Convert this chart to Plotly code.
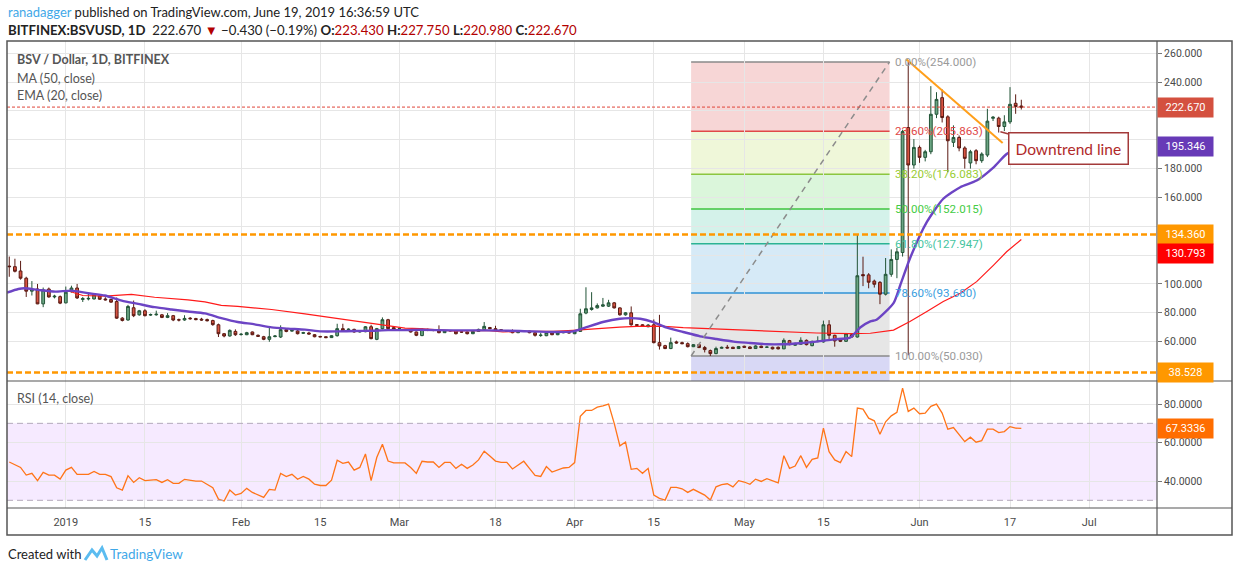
import pandas as pd
import plotly.graph_objects as go
from plotly.subplots import make_subplots

# pixel frame of the plotting area (inside the 1234x572 page)
W, H = 1234, 572
PL, PR, PT, PB = 7, 1157, 41, 508


def px(x):
    return (x - PL) / (PR - PL)


def py(y):
    return (PB - y) / (PB - PT)


# ---- daily candles, BITFINEX:BSVUSD, 2018-12-22 .. 2019-06-19 ----
first_day = "2018-12-22"
opens = [
    112.4, 112.0, 109.0, 104.0, 95.0, 96.5, 86.2, 96.5, 91.0, 91.2,
    86.9, 94.7, 97.2, 89.3, 89.6, 89.6, 91.7, 89.6, 89.2, 87.8,
    76.3, 75.0, 83.5, 78.6, 81.4, 78.4, 78.6, 78.6, 76.8, 78.0,
    75.2, 75.0, 76.3, 76.0, 75.6, 75.3, 74.6, 71.7, 65.5, 63.9,
    67.1, 64.9, 64.8, 66.7, 64.4, 63.4, 61.6, 63.5, 63.2, 68.3,
    67.3, 67.4, 65.8, 66.0, 64.8, 63.6, 63.4, 62.8, 64.1, 69.0,
    68.3, 68.5, 66.7, 66.9, 70.3, 61.6, 69.0, 75.2, 69.7, 69.0,
    68.4, 68.3, 66.7, 64.2, 68.5, 67.9, 67.6, 66.2, 67.7, 67.6,
    66.8, 66.7, 65.5, 67.1, 68.3, 69.8, 69.0, 68.3, 67.4, 67.6,
    66.2, 67.2, 67.3, 66.2, 64.3, 64.1, 66.2, 64.8, 66.2, 66.2,
    65.5, 67.1, 79.8, 82.3, 83.4, 84.6, 84.6, 86.9, 83.4, 78.6,
    80.0, 71.8, 71.7, 70.3, 71.7, 59.3, 57.2, 55.2, 59.8, 59.3,
    58.6, 56.5, 57.9, 55.9, 53.8, 51.7, 55.4, 56.1, 56.1, 55.2,
    56.8, 56.3, 55.2, 56.8, 56.1, 56.1, 56.1, 55.0, 60.7, 57.5,
    58.2, 60.9, 57.2, 60.0, 59.8, 71.7, 64.4, 61.6, 60.2, 64.8,
    63.2, 106.5, 106.3, 102.0, 101.1, 92.9, 106.7, 117.0, 121.8, 208.5,
    182.5, 194.7, 187.8, 191.7, 217.7, 229.2, 215.9, 198.2, 201.6, 194.3,
    183.9, 192.4, 185.5, 189.4, 214.9, 215.0, 209.2, 212.4, 225.3, 223.43,
]
highs = [
    119.0, 117.5, 116.0, 105.0, 102.0, 100.0, 97.5, 97.5, 92.5, 92.0,
    98.2, 98.8, 100.0, 91.0, 93.5, 93.5, 92.3, 90.8, 89.8, 90.6,
    77.0, 85.5, 88.5, 82.0, 82.5, 79.5, 81.5, 79.2, 79.8, 78.5,
    76.0, 78.3, 77.0, 76.5, 76.5, 76.0, 75.2, 72.5, 66.0, 68.5,
    68.5, 66.0, 66.8, 67.0, 65.0, 64.0, 70.0, 64.5, 71.3, 68.8,
    68.3, 68.5, 66.8, 66.8, 65.3, 64.0, 63.8, 64.5, 72.4, 72.4,
    69.2, 69.0, 67.8, 70.8, 71.7, 69.5, 76.8, 75.8, 70.2, 69.6,
    68.9, 68.8, 67.0, 69.3, 69.0, 68.3, 71.3, 68.0, 68.0, 67.9,
    67.2, 67.0, 67.6, 69.0, 73.6, 70.2, 71.0, 68.7, 67.8, 68.5,
    67.5, 67.8, 67.7, 66.5, 66.2, 66.6, 66.5, 66.5, 67.3, 66.7,
    67.5, 82.8, 97.7, 94.3, 86.5, 90.3, 89.0, 87.5, 83.8, 80.5,
    84.4, 72.2, 72.1, 72.2, 75.4, 78.6, 57.8, 62.8, 60.7, 60.0,
    59.5, 58.3, 58.5, 57.0, 54.5, 56.5, 56.6, 57.7, 56.5, 57.0,
    57.2, 56.8, 57.5, 57.3, 56.8, 56.5, 56.6, 62.3, 61.2, 59.3,
    63.0, 61.5, 60.7, 63.7, 74.6, 74.9, 64.8, 62.0, 66.0, 65.3,
    134.5, 118.9, 107.5, 103.0, 102.0, 118.0, 124.0, 125.0, 207.0, 254.0,
    200.5, 196.0, 193.0, 237.2, 233.0, 234.9, 217.0, 210.0, 203.0, 195.5,
    193.0, 193.5, 191.3, 221.5, 216.5, 216.0, 217.0, 236.5, 231.5, 227.75,
]
lows = [
    105.0, 108.0, 103.0, 91.0, 92.0, 86.0, 83.9, 90.5, 90.0, 86.0,
    86.5, 94.0, 89.6, 87.5, 88.6, 89.2, 89.0, 88.5, 87.0, 75.8,
    74.0, 74.5, 77.0, 78.0, 77.5, 77.8, 78.0, 76.3, 76.3, 74.2,
    74.0, 74.5, 75.2, 74.8, 74.5, 74.0, 71.0, 63.2, 63.0, 63.5,
    64.0, 64.2, 64.5, 64.5, 63.3, 61.0, 59.9, 63.0, 62.5, 66.5,
    66.8, 65.0, 65.3, 65.0, 63.0, 63.0, 62.4, 62.5, 63.5, 67.0,
    67.8, 66.2, 66.3, 66.5, 61.6, 61.0, 68.5, 68.5, 68.0, 68.5,
    67.6, 66.3, 63.8, 63.8, 67.3, 67.2, 65.8, 66.0, 67.0, 65.0,
    66.0, 65.0, 65.2, 66.8, 68.0, 68.6, 67.5, 67.4, 66.9, 65.8,
    65.9, 66.9, 65.8, 63.5, 63.3, 63.8, 64.5, 64.5, 65.8, 65.7,
    65.2, 66.8, 79.0, 81.5, 83.0, 84.0, 84.0, 83.0, 78.0, 78.0,
    71.0, 70.8, 70.4, 70.0, 58.8, 54.5, 54.8, 54.8, 58.6, 58.2,
    56.0, 56.2, 55.5, 52.5, 50.03, 51.3, 55.1, 55.2, 54.9, 54.9,
    55.8, 54.9, 54.9, 55.5, 55.7, 54.6, 54.6, 54.8, 57.5, 57.0,
    57.8, 57.4, 56.8, 59.6, 59.3, 60.9, 56.5, 59.7, 59.8, 62.8,
    62.8, 98.5, 97.0, 97.5, 86.0, 92.0, 105.0, 104.0, 119.0, 50.5,
    180.0, 184.0, 185.0, 190.0, 215.0, 212.0, 177.5, 195.0, 192.0, 180.0,
    180.0, 183.0, 184.0, 188.0, 213.0, 205.0, 206.0, 211.0, 218.0, 220.98,
]
closes = [
    112.0, 108.8, 104.0, 95.0, 96.5, 86.2, 95.9, 91.0, 91.5, 86.7,
    94.3, 97.2, 90.3, 89.8, 90.0, 92.6, 89.4, 89.0, 87.4, 76.3,
    74.7, 84.4, 78.0, 81.4, 78.0, 78.8, 79.0, 76.8, 78.0, 75.0,
    75.0, 76.1, 75.9, 75.3, 75.0, 74.5, 71.8, 65.5, 63.9, 67.8,
    64.8, 65.1, 66.2, 64.8, 63.7, 61.6, 63.4, 63.9, 68.3, 67.1,
    67.8, 65.5, 66.2, 65.3, 63.4, 63.3, 62.8, 64.1, 69.0, 67.6,
    68.6, 66.7, 67.1, 70.3, 62.1, 69.0, 75.2, 69.0, 68.5, 69.1,
    68.2, 66.7, 64.4, 68.7, 67.8, 67.7, 66.2, 67.6, 67.5, 65.5,
    66.6, 65.5, 67.1, 68.5, 70.6, 69.0, 67.8, 67.8, 67.3, 66.2,
    67.1, 67.4, 66.2, 64.4, 64.5, 66.2, 64.8, 66.2, 66.3, 66.1,
    67.1, 79.3, 82.8, 83.4, 85.0, 85.5, 86.9, 83.4, 78.6, 80.0,
    71.7, 71.3, 70.8, 71.5, 59.3, 57.0, 55.2, 59.3, 59.1, 58.6,
    56.5, 57.9, 55.9, 54.5, 51.7, 55.2, 56.0, 55.6, 55.2, 56.6,
    56.1, 55.2, 57.0, 55.9, 56.2, 55.0, 55.0, 60.9, 57.9, 58.4,
    60.9, 57.9, 60.2, 60.3, 71.7, 64.4, 60.5, 60.2, 65.5, 63.2,
    105.7, 105.7, 101.2, 99.8, 92.9, 106.7, 117.0, 122.3, 205.7, 182.5,
    194.7, 187.8, 191.7, 217.7, 228.0, 215.4, 199.3, 201.6, 194.3, 187.1,
    191.7, 185.5, 190.1, 212.9, 215.6, 209.2, 212.4, 224.6, 223.1, 222.67,
]

# RSI (14, close), one value per candle
rsi_vals = [
    49.9, 48.6, 47.1, 43.1, 44.0, 40.2, 44.5, 43.1, 43.1, 41.0,
    45.7, 47.1, 43.5, 43.5, 43.5, 45.0, 43.5, 43.5, 42.3, 36.5,
    35.3, 42.8, 39.3, 41.7, 40.2, 40.5, 40.7, 39.3, 40.7, 38.8,
    38.8, 40.9, 40.3, 40.0, 40.0, 38.3, 36.5, 30.6, 29.6, 35.3,
    32.7, 33.6, 36.2, 34.1, 33.0, 31.5, 35.7, 35.3, 44.0, 42.3,
    43.5, 40.9, 42.4, 41.0, 38.4, 37.7, 37.7, 40.5, 50.8, 49.2,
    49.9, 45.7, 47.1, 54.1, 40.2, 52.2, 59.1, 50.4, 49.4, 49.4,
    49.4, 47.0, 44.0, 50.3, 49.9, 49.9, 47.1, 49.7, 49.7, 46.6,
    48.7, 46.6, 48.3, 51.0, 55.5, 53.0, 50.4, 49.7, 49.7, 46.3,
    48.5, 50.3, 46.6, 43.0, 42.4, 47.5, 44.7, 45.7, 46.8, 47.1,
    49.6, 73.6, 76.7, 76.7, 78.4, 79.1, 80.0, 70.0, 58.3, 60.3,
    46.1, 46.6, 44.0, 46.6, 32.7, 31.0, 30.1, 36.7, 36.7, 36.0,
    34.1, 35.7, 34.3, 32.7, 30.1, 37.0, 38.1, 38.6, 37.0, 40.2,
    39.5, 38.3, 41.0, 39.8, 41.2, 40.0, 39.1, 53.2, 46.6, 47.8,
    53.2, 47.1, 51.3, 52.0, 67.5, 55.3, 51.0, 49.6, 55.3, 52.7,
    77.9, 77.4, 72.7, 71.3, 64.3, 70.8, 73.9, 75.7, 88.3, 76.2,
    77.9, 75.0, 75.3, 78.8, 80.0, 75.3, 67.0, 67.8, 64.3, 60.5,
    62.8, 60.2, 61.0, 67.0, 67.0, 65.2, 65.7, 68.3, 67.5, 67.3336,
]

# EMA(20), days counted from 2019-01-01
ema_days = [-10.4, -8.4, -7.3, -4.9, -1.9, 1.0, 3.95, 6.9, 9.9, 12.8, 15.7, 18.7,
            21.6, 24.6, 27.5, 30.4, 33.4, 36.4, 39.3, 42.3, 45.2, 48.2, 51.1, 54.1,
            57.0, 60.0, 62.6, 68.5, 74.4, 80.3, 86.2, 89.7, 92.1, 95.0, 98.0, 99.8,
            101.6, 103.9, 106.3, 109.2, 112.2, 115.1, 118.1, 121.0, 124.0, 126.9,
            129.9, 132.8, 135.8, 138.7, 140.5, 142.3, 143.4, 146.4, 147.6, 149.3,
            152.3, 155.2, 158.2, 161.1, 164.1, 166.4, 169.0]
ema_vals = [94.0, 96.5, 97.0, 95.9, 94.7, 95.4, 93.6, 92.0, 88.5, 86.2, 83.9, 82.3,
            80.9, 79.6, 76.3, 73.6, 72.0, 69.9, 69.0, 68.3, 67.1, 67.1, 67.4, 67.6,
            68.0, 68.0, 68.2, 67.8, 67.8, 67.4, 66.7, 67.1, 70.1, 73.6, 75.9, 76.3,
            75.9, 73.6, 69.7, 66.7, 63.7, 61.8, 60.0, 59.1, 58.2, 58.2,
            58.9, 60.0, 61.6, 62.8, 69.8, 74.0, 75.2, 86.7, 99.3, 117.7,
            143.0, 159.1, 167.1, 171.7, 180.9, 190.1, 195.346]

# MA(50)
ma_days = [0.2, 3.0, 6.9, 11.6, 15.7, 18.7, 21.6, 24.6, 27.5, 30.4, 36.4, 42.3,
           48.2, 54.1, 60.0, 62.6, 68.5, 74.4, 77.3, 80.3, 86.2, 89.7, 92.1, 95.0,
           98.0, 101.0, 105.1, 109.2, 115.1, 121.0, 126.9, 132.8, 138.7, 142.3,
           146.4, 149.3, 152.3, 155.2, 158.2, 161.1, 164.1, 166.4, 169.0]
ma_vals = [95.5, 92.0, 91.5, 92.8, 90.8, 90.1, 89.0, 87.6, 85.1, 84.4, 82.3, 79.3,
           75.9, 72.4, 69.4, 69.0, 67.4, 67.8, 66.7, 67.1, 67.1, 67.8, 68.5, 69.4,
           70.1, 70.6, 70.8, 69.7, 68.7, 67.8, 66.7, 66.0, 65.5, 65.8,
           68.0, 74.0, 80.9, 87.8, 93.6, 101.6, 113.1, 122.3, 130.793]

# Fibonacci retracement (low 2019-04-25 -> high 2019-05-30)
fib_pct = ["0.00%", "23.60%", "38.20%", "50.00%", "61.80%", "78.60%", "100.00%"]
fib_price = [254.000, 205.863, 176.083, 152.015, 127.947, 93.680, 50.030]
fib_line_col = ["#8a8a8a", "#e04848", "#8cc63f", "#3fc43f", "#2bb394", "#2f92d6", "#8a8a8a"]
fib_text_col = ["#9a9a9a", "#e04848", "#99cc33", "#44cc44", "#44c4a0", "#3a9ee0", "#9a9a9a"]
fib_fill = ["rgba(214,50,50,0.2)", "rgba(160,205,30,0.17)", "rgba(40,200,40,0.17)",
            "rgba(0,175,130,0.17)", "rgba(30,140,210,0.18)", "rgba(128,128,128,0.2)",
            "rgba(60,60,205,0.2)"]
fib_day0, fib_day1 = 110.6, 145.7

# drawn levels
last_close = 222.670
support_levels = [134.360, 38.528]
downtrend_days = [148.7, 165.7]
downtrend_vals = [255.6, 197.7]

# axis ticks
x_tick_days = [0, 14, 31, 45, 59, 76, 90, 104, 120, 134, 151, 167, 181]
x_tick_text = ["2019", "15", "Feb", "15", "Mar", "18", "Apr", "15", "May", "15", "Jun", "17", "Jul"]
price_ticks = [60, 80, 100, 120, 140, 160, 180, 200, 220, 240, 260]
price_hidden = [120, 140, 200, 220]      # covered by the price tags
rsi_ticks = [40, 60, 80]

base = pd.Timestamp("2019-01-01")


def day(d):
    return base + pd.Timedelta(hours=24 * d)


dates = pd.date_range(first_day, periods=len(closes), freq="D")

FONT = "Roboto"
TXT = "#4a4a4a"
GRID = "#e6e6e6"
FRAME = "#555555"

split = py(381)
fig = make_subplots(rows=2, cols=1, shared_xaxes=True, vertical_spacing=0)

fig.add_trace(go.Candlestick(
    x=dates, open=opens, high=highs, low=lows, close=closes,
    increasing=dict(fillcolor="#6ba583", line=dict(color="#225437", width=1)),
    decreasing=dict(fillcolor="#d75442", line=dict(color="#5b1a13", width=1)),
    whiskerwidth=0, showlegend=False, hoverinfo="skip"), row=1, col=1)

fig.add_trace(go.Scatter(x=[day(d) for d in ma_days], y=ma_vals, mode="lines",
                         line=dict(color="#ff1a1a", width=1.2), showlegend=False,
                         hoverinfo="skip"), row=1, col=1)
fig.add_trace(go.Scatter(x=[day(d) for d in ema_days], y=ema_vals, mode="lines",
                         line=dict(color="#6c44c4", width=2.4, shape="spline", smoothing=0.6),
                         showlegend=False, hoverinfo="skip"), row=1, col=1)

fig.add_trace(go.Scatter(x=dates, y=rsi_vals, mode="lines",
                         line=dict(color="#ff7418", width=1.3), showlegend=False,
                         hoverinfo="skip"), row=2, col=1)

shapes = []
# fibonacci zones and levels
bounds = fib_price + [20]
for i in range(len(fib_price)):
    shapes.append(dict(type="rect", xref="x", yref="y", x0=day(fib_day0), x1=day(fib_day1),
                       y0=bounds[i + 1], y1=bounds[i], fillcolor=fib_fill[i],
                       line=dict(width=0), layer="below"))
for i, p in enumerate(fib_price):
    shapes.append(dict(type="line", xref="x", yref="y", x0=day(fib_day0), x1=day(fib_day1),
                       y0=p, y1=p, line=dict(color=fib_line_col[i], width=1.5), layer="below"))
shapes.append(dict(type="line", xref="x", yref="y", x0=day(fib_day0), x1=day(fib_day1),
                   y0=fib_price[-1], y1=fib_price[0],
                   line=dict(color="#8c8c8c", width=1.5, dash="6px,5px")))

# horizontal levels
shapes.append(dict(type="line", xref="paper", yref="y", x0=0, x1=1, y0=last_close, y1=last_close,
                   line=dict(color="#e0453a", width=1, dash="3px,2px")))
for lv in support_levels:
    shapes.append(dict(type="line", xref="paper", yref="y", x0=0, x1=1, y0=lv, y1=lv,
                       line=dict(color="#ff9800", width=2.5, dash="6px,3px")))
# downtrend line
shapes.append(dict(type="line", xref="x", yref="y", x0=day(downtrend_days[0]), x1=day(downtrend_days[1]),
                   y0=downtrend_vals[0], y1=downtrend_vals[1], line=dict(color="#ff9f1a", width=2)))

# RSI band
shapes.append(dict(type="rect", xref="paper", yref="y2", x0=0, x1=1, y0=30, y1=70,
                   fillcolor="rgba(153,21,255,0.09)", line=dict(width=0), layer="below"))
for lv in (70, 30):
    shapes.append(dict(type="line", xref="paper", yref="y2", x0=0, x1=1, y0=lv, y1=lv,
                       line=dict(color="#b3a9bb", width=1, dash="6px,4px")))

# frame
xr = px(1232)
yb = py(535)
shapes += [
    dict(type="rect", xref="paper", yref="paper", x0=0, x1=xr, y0=yb, y1=1,
         line=dict(color=FRAME, width=1.5)),
    dict(type="line", xref="paper", yref="paper", x0=1, x1=1, y0=yb, y1=1,
         line=dict(color=FRAME, width=1.2)),
    dict(type="line", xref="paper", yref="paper", x0=0, x1=xr, y0=split, y1=split,
         line=dict(color=FRAME, width=1.2)),
    dict(type="line", xref="paper", yref="paper", x0=0, x1=xr, y0=0, y1=0,
         line=dict(color=FRAME, width=1.2)),
]
# TradingView logo mark in the footer
shapes.append(dict(type="path", xref="paper", yref="paper",
                   path="M %f %f L %f %f L %f %f L %f %f L %f %f" % (
                       px(85), py(560), px(92), py(550), px(97), py(556),
                       px(102), py(548), px(107), py(560)),
                   line=dict(color="#5bbcf0", width=3)))

ann = []
# header
ann.append(dict(xref="paper", yref="paper", x=px(6), y=py(12), xanchor="left", yanchor="middle",
                showarrow=False, font=dict(family="Lato", size=13, color="#222"),
                text="<span style='color:#3fa8e8'>ranadagger</span> published on TradingView.com, "
                     "June 19, 2019 16:36:59 UTC"))
red = "#b30000"
ann.append(dict(xref="paper", yref="paper", x=px(6), y=py(30), xanchor="left", yanchor="middle",
                showarrow=False, font=dict(family="Lato", size=13.2, color="#222"),
                text="<b>BITFINEX:BSVUSD, 1D</b>  222.670 <span style='color:%s'>▼</span> −0.430 (−0.19%%) "
                     "<b>O:</b><span style='color:%s'>223.430</span> <b>H:</b><span style='color:%s'>227.750</span> "
                     "<b>L:</b><span style='color:%s'>220.980</span> <b>C:</b><span style='color:%s'>222.670</span>"
                     % (red, red, red, red, red)))
# pane legends
for txt, yy, bold in [("BSV / Dollar, 1D, BITFINEX", 60, True), ("MA (50, close)", 78, False),
                      ("EMA (20, close)", 95, False), ("RSI (14, close)", 398, False)]:
    ann.append(dict(xref="paper", yref="paper", x=px(15), y=py(yy), xanchor="left", yanchor="middle",
                    showarrow=False, font=dict(family="Lato", size=12.5, color="#555"),
                    text="<b>%s</b>" % txt if bold else txt))
# footer
ann.append(dict(xref="paper", yref="paper", x=px(6), y=py(554), xanchor="left", yanchor="middle",
                showarrow=False, font=dict(family="Lato", size=13, color="#222"), text="Created with"))
ann.append(dict(xref="paper", yref="paper", x=px(108), y=py(554), xanchor="left", yanchor="middle",
                showarrow=False, font=dict(family="Lato", size=13.5, color="#3fa8e8"), text="TradingView"))

# fib labels
for i, p in enumerate(fib_price):
    ann.append(dict(xref="x", yref="y", x=day(fib_day1), y=p, xanchor="left", yanchor="middle",
                    xshift=3, showarrow=False, font=dict(family=FONT, size=11.6, color=fib_text_col[i]),
                    text="%s(%.3f)" % (fib_pct[i], p)))

# callout
ann.append(dict(xref="x", yref="y", x=day(165.3), y=205.5, ax=68, ay=17, axref="pixel", ayref="pixel",
                showarrow=True, arrowhead=0, arrowwidth=1.5, arrowcolor="#a33a3a",
                text="Downtrend line", font=dict(family="Lato", size=15.5, color="#b02a2a"),
                bgcolor="white", bordercolor="#a33a3a", borderwidth=1.5, borderpad=6))

# price scale tags (value, axis, colour, format, vertical nudge in px so tags do not collide)
tags = [(last_close, "y", "#d4503f", "%.3f", 0), (ema_vals[-1], "y", "#673ab7", "%.3f", 0),
        (support_levels[0], "y", "#ff9800", "%.3f", 0), (ma_vals[-1], "y", "#ff0000", "%.3f", -14),
        (support_levels[1], "y", "#ff9800", "%.3f", 0), (rsi_vals[-1], "y2", "#ff6d00", "%.4f", 0)]
for val, yref, col, fmt, shift in tags:
    ann.append(dict(xref="paper", yref=yref, x=1, y=val, xanchor="left", yanchor="middle",
                    yshift=shift, showarrow=False, bgcolor=col, borderpad=2, width=51, height=15,
                    align="center", font=dict(family=FONT, size=11, color="white"), text=fmt % val))

xrange = [day(-10.4), day(193)]
tickx = [day(d) for d in x_tick_days]

fig.update_layout(
    width=W, height=H, margin=dict(l=PL, r=W - PR, t=PT, b=H - PB),
    paper_bgcolor="white", plot_bgcolor="white",
    shapes=shapes, annotations=ann, showlegend=False,
    font=dict(family=FONT, size=11, color=TXT),
    xaxis=dict(range=xrange, tickvals=tickx, showticklabels=False, showgrid=True, gridcolor=GRID,
               rangeslider=dict(visible=False), zeroline=False),
    xaxis2=dict(range=xrange, tickvals=tickx, ticktext=x_tick_text, showgrid=True, gridcolor=GRID,
                ticks="", ticklabelstandoff=6, tickfont=dict(size=11, color=TXT), zeroline=False),
    yaxis=dict(domain=[split, 1], range=[32.7, 268.5], side="right", tickvals=price_ticks,
               ticktext=["" if v in price_hidden else "%.3f" % v for v in price_ticks],
               showgrid=True, gridcolor=GRID,
               ticks="outside", ticklen=4, tickcolor="#777", zeroline=False,
               tickfont=dict(size=10.5, color=TXT)),
    yaxis2=dict(domain=[0, split], range=[26, 92], side="right", tickvals=rsi_ticks,
                ticktext=["%.4f" % v for v in rsi_ticks], showgrid=True, gridcolor=GRID,
                ticks="outside", ticklen=4, tickcolor="#777", zeroline=False,
                tickfont=dict(size=10.5, color=TXT)),
)

# page body has a default 8px margin; drop it so the figure sits at the window corner
fig.write_html("out.html", config={"displayModeBar": False},
               post_script="document.body.style.margin='0px';")
